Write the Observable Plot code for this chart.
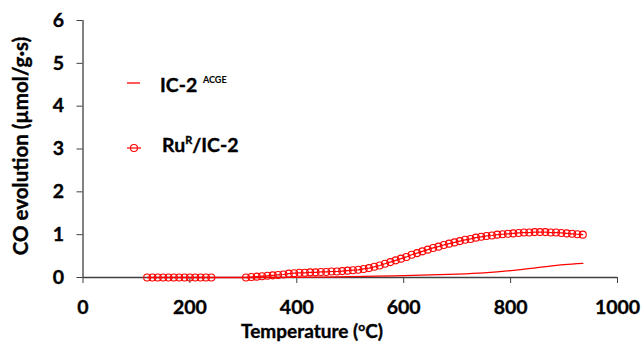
<!DOCTYPE html>
<html>
<head>
<meta charset="utf-8">
<script src="https://cdn.jsdelivr.net/npm/d3@7"></script>
<script src="https://cdn.jsdelivr.net/npm/@observablehq/plot@0.6"></script>
<style>
  body { margin: 0; background: #fff; }
  #chart { width: 644px; height: 349px; }
  #chart svg { font-family: Lato, "Open Sans", sans-serif; }
  #chart svg .heavy { paint-order: stroke; stroke: #000; stroke-width: 0.35px; }
</style>
</head>
<body>
<div id="chart"></div>
<script>
// Axis ticks
const xTicks = [0, 200, 400, 600, 800, 1000];
const yTicks = [0, 1, 2, 3, 4, 5, 6];

// Ru^R/IC-2: CO evolution (µmol/g·s) vs temperature (°C)
const ruTemps = [
  120, 130, 140, 150, 160, 170, 180, 190, 200, 210, 220, 230, 240,
  305, 315, 325, 335, 345, 355, 365, 375, 385, 395,
  405, 415, 425, 435, 445, 455, 465, 475, 485, 495,
  505, 515, 525, 535, 545, 555, 565, 575, 585, 595,
  605, 615, 625, 635, 645, 655, 665, 675, 685, 695,
  705, 715, 725, 735, 745, 755, 765, 775, 785, 795,
  805, 815, 825, 835, 845, 855, 865, 875, 885, 895,
  905, 915, 925, 935
];
const ruValues = [
  0, 0, 0, 0, 0, 0, 0, 0, 0, 0, 0, 0, 0,
  0.00, 0.01, 0.02, 0.03, 0.04, 0.05, 0.06, 0.07, 0.09, 0.10,
  0.11, 0.11, 0.12, 0.12, 0.13, 0.13, 0.14, 0.14, 0.15, 0.16,
  0.17, 0.18, 0.20, 0.22, 0.25, 0.28, 0.32, 0.36, 0.40, 0.44,
  0.48, 0.53, 0.57, 0.61, 0.65, 0.69, 0.72, 0.76, 0.79, 0.82,
  0.85, 0.88, 0.90, 0.93, 0.95, 0.97, 0.98, 1.00, 1.01, 1.02,
  1.03, 1.04, 1.05, 1.05, 1.06, 1.06, 1.06, 1.05, 1.05, 1.04,
  1.03, 1.02, 1.01, 1.00
];

// IC-2 ACGE: CO evolution vs temperature
const icTemps  = [120, 200, 300, 400, 450, 500, 550, 600, 650, 700, 750, 800, 850, 900, 935];
const icValues = [0, 0, 0, 0.005, 0.01, 0.02, 0.03, 0.045, 0.06, 0.08, 0.11, 0.16, 0.23, 0.30, 0.33];

const ru = ruTemps.map((t, i) => ({t, v: ruValues[i]}));
const ic = icTemps.map((t, i) => ({t, v: icValues[i]}));

const red = "#ff0000";
const axisColor = "#404040";

const chart = Plot.plot({
  width: 644,
  height: 349,
  marginLeft: 82.5,
  marginRight: 27,
  marginTop: 20,
  marginBottom: 72,
  x: {domain: [0, 1000]},
  y: {domain: [0, 6]},
  marks: [
    Plot.axisX({ticks: xTicks, tickFormat: d3.format("d"), tickSize: 6, tickPadding: 17, fontSize: 19.5, fontWeight: "bold", label: null, stroke: axisColor}),
    Plot.axisY({ticks: yTicks, tickFormat: d3.format("d"), tickSize: 6, tickPadding: 13, fontSize: 19.5, fontWeight: "bold", label: null, stroke: axisColor}),
    Plot.ruleY([0], {stroke: axisColor, strokeWidth: 1.3}),
    Plot.ruleX([0], {stroke: axisColor, strokeWidth: 1.3}),
    Plot.line(ic, {x: "t", y: "v", stroke: red, strokeWidth: 1.3, curve: "monotone-x"}),
    Plot.line(ru, {x: "t", y: "v", stroke: red, strokeWidth: 1.2}),
    Plot.dot(ru, {x: "t", y: "v", r: 3.5, stroke: red, strokeWidth: 1.1, fill: "none"})
  ]
});

document.getElementById("chart").append(chart);

const svg = d3.select(chart);
svg.selectAll("g[aria-label='x-axis tick label'], g[aria-label='y-axis tick label']")
  .attr("fill", "#000")
  .selectAll("text").classed("heavy", true);

// Axis titles
svg.append("text")
  .attr("class", "heavy")
  .attr("transform", "translate(28,146) rotate(-90)")
  .attr("text-anchor", "middle")
  .attr("font-size", 20.5)
  .attr("font-weight", "bold")
  .attr("fill", "#000")
  .text("CO evolution (µmol/g·s)");

const xt = svg.append("text")
  .attr("class", "heavy")
  .attr("x", 312)
  .attr("y", 338)
  .attr("text-anchor", "middle")
  .attr("font-size", 19)
  .attr("font-weight", "bold")
  .attr("fill", "#000");
xt.append("tspan").text("Temperature (");
xt.append("tspan").attr("font-size", 12).attr("dy", -7).text("o");
xt.append("tspan").attr("dy", 7).text("C)");

// Legend
const lg = svg.append("g").attr("font-weight", "bold").attr("fill", "#000").attr("text-anchor", "start");
lg.append("line").attr("x1", 127).attr("x2", 140).attr("y1", 83).attr("y2", 83)
  .attr("stroke", red).attr("stroke-width", 1.3);
const t1 = lg.append("text").attr("class", "heavy").attr("x", 160).attr("y", 92).attr("font-size", 19.5);
t1.append("tspan").text("IC-2");
t1.append("tspan").attr("x", 203).attr("dy", -9).attr("font-size", 9).attr("stroke-width", 0.1).text("ACGE");

lg.append("line").attr("x1", 127).attr("x2", 141).attr("y1", 148).attr("y2", 148)
  .attr("stroke", red).attr("stroke-width", 1.2);
lg.append("circle").attr("cx", 134).attr("cy", 148).attr("r", 3.5)
  .attr("fill", "none").attr("stroke", red).attr("stroke-width", 1.1);
const t2 = lg.append("text").attr("class", "heavy").attr("x", 162).attr("y", 152).attr("font-size", 19.5);
t2.append("tspan").text("Ru");
t2.append("tspan").attr("dy", -8).attr("font-size", 11).text("R");
t2.append("tspan").attr("dy", 8).text("/IC-2");
</script>
</body>
</html>
